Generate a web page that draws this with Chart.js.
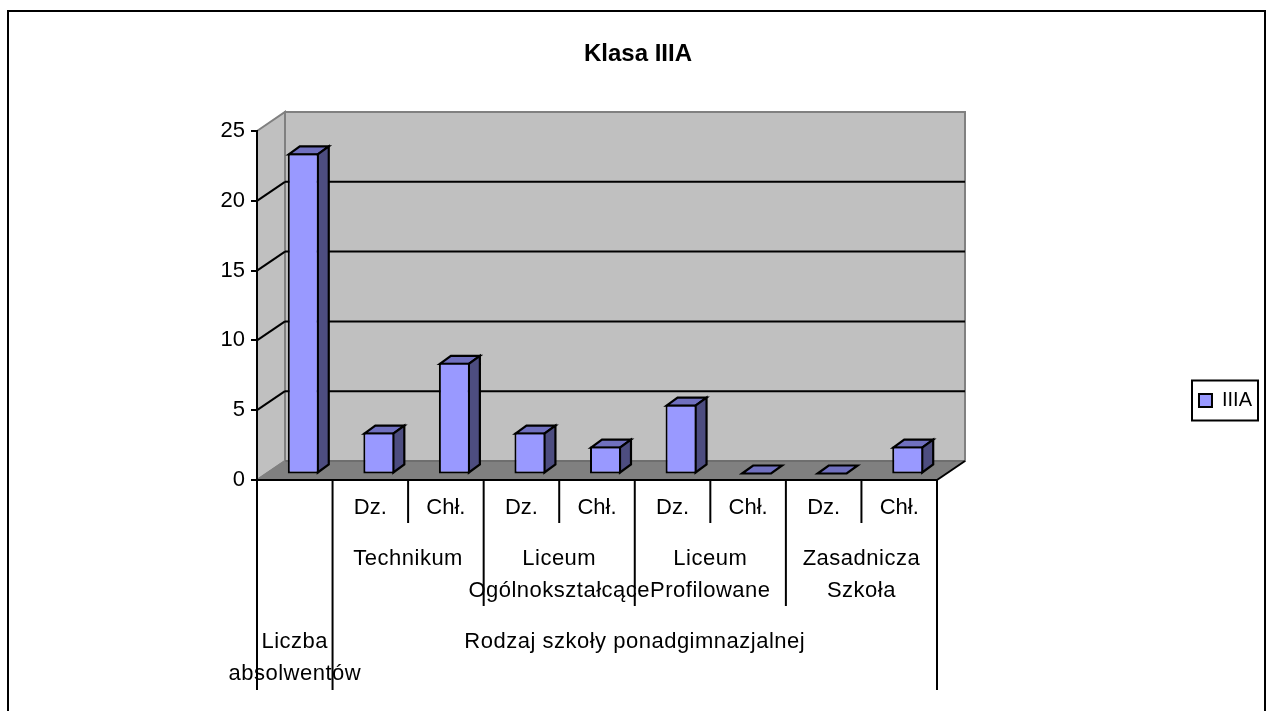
<!DOCTYPE html>
<html>
<head>
<meta charset="utf-8">
<style>html,body{margin:0;padding:0;background:#fff;overflow:hidden}canvas{display:block}</style>
<script src="https://cdn.jsdelivr.net/npm/chart.js@4"></script>
</head>
<body>
<canvas id="c" width="1267" height="711"></canvas>
<script>
const chartTitle = 'Klasa IIIA';
const seriesName = 'IIIA';
const categories = ['', 'Dz.', 'Chł.', 'Dz.', 'Chł.', 'Dz.', 'Chł.', 'Dz.', 'Chł.'];
const values = [23, 3, 8, 3, 2, 5, 0, 0, 2];
const yTicks = [0, 5, 10, 15, 20, 25];
// [first category, last category, text lines, row]
const groupLabels = [
  [1, 2, ['Technikum'], 1],
  [3, 4, ['Liceum', 'Ogólnokształcące'], 1],
  [5, 6, ['Liceum', 'Profilowane'], 1],
  [7, 8, ['Zasadnicza', 'Szkoła'], 1],
  [1, 8, ['Rodzaj szkoły ponadgimnazjalnej'], 2],
  [0, 0, ['Liczba', 'absolwentów'], 2]
];
const separators1 = [2, 4, 6, 8];
const separators2 = [3, 5, 7];
const separators3 = [0, 1, 9];

const FONT = '"Liberation Sans", Arial, sans-serif';
const DX = 28, DY = -19;        // depth of the 3D box
const BX = 8.5, BY = -5.5;      // where bars stand on the floor
const bdx = 11, bdy = -8;       // depth of one bar
const WALL = '#c0c0c0', FLOOR = '#808080', EDGE = '#808080';
const LEGEND_SHIFT_X = 4, LEGEND_SHIFT_Y = 45, LEGEND_FRAME_W = 66;

function poly(ctx, pts, fill, stroke, lw) {
  ctx.beginPath();
  pts.forEach((p, i) => i ? ctx.lineTo(p[0], p[1]) : ctx.moveTo(p[0], p[1]));
  ctx.closePath();
  if (fill) { ctx.fillStyle = fill; ctx.fill(); }
  if (stroke) { ctx.strokeStyle = stroke; ctx.lineWidth = lw; ctx.lineJoin = 'miter'; ctx.stroke(); }
}
function line(ctx, x1, y1, x2, y2, color, lw) {
  ctx.beginPath(); ctx.moveTo(x1, y1); ctx.lineTo(x2, y2);
  ctx.strokeStyle = color; ctx.lineWidth = lw; ctx.stroke();
}

const box3d = {
  id: 'box3d',
  afterLayout(chart) {
    const lg = chart.legend;
    lg.top += LEGEND_SHIFT_Y; lg.bottom += LEGEND_SHIFT_Y;
    lg.left += LEGEND_SHIFT_X; lg.right += LEGEND_SHIFT_X;
  },
  beforeDraw(chart) {
    const ctx = chart.ctx, x = chart.scales.x, y = chart.scales.y;
    const l = x.left, r = x.right, b = y.getPixelForValue(0), t = y.getPixelForValue(25);
    ctx.save();
    poly(ctx, [[l + DX, t + DY], [r + DX, t + DY], [r + DX, b + DY], [l + DX, b + DY]], WALL, EDGE, 2);
    poly(ctx, [[l, t], [l + DX, t + DY], [l + DX, b + DY], [l, b]], WALL, EDGE, 2);
    poly(ctx, [[l, b], [l + DX, b + DY], [r + DX, b + DY], [r, b]], FLOOR, null, 0);
    line(ctx, l + DX, b + DY, r + DX, b + DY, '#6e6e6e', 2);
    line(ctx, l, b, l + DX, b + DY, EDGE, 2);
    line(ctx, r, b, r + DX, b + DY, '#000', 2);
    yTicks.slice(1, -1).forEach(v => {
      const py = y.getPixelForValue(v);
      line(ctx, l, py, l + DX, py + DY, '#000', 2);
      line(ctx, l + DX, py + DY, r + DX, py + DY, '#000', 2);
    });
    ctx.restore();
  },
  beforeDatasetsDraw(chart) {
    const ctx = chart.ctx;
    ctx.save();
    ctx.translate(BX, BY);
    chart.getDatasetMeta(0).data.forEach(el => {
      const { x, y, base, width } = el.getProps(['x', 'y', 'base', 'width'], true);
      const a = x - width / 2 + 1, c = x + width / 2 - 1;
      const tp = Math.min(y + 1, base - 1), bt = base - 1;
      poly(ctx, [[a, tp], [a + bdx, tp + bdy], [c + bdx, tp + bdy], [c, tp]], '#7070bf', '#000', 2.2);
      if (bt > tp) poly(ctx, [[c, tp], [c + bdx, tp + bdy], [c + bdx, bt + bdy], [c, bt]], '#4d4d80', '#000', 2.2);
    });
  },
  afterDatasetsDraw(chart) { chart.ctx.restore(); },
  afterDraw(chart) {
    const ctx = chart.ctx, xs = chart.scales.x;
    const edge = i => xs.left + i * xs.width / categories.length;
    const bottom = xs.top;
    ctx.save();
    ctx.lineCap = 'butt';
    separators1.forEach(i => line(ctx, edge(i), bottom, edge(i), 523, '#000', 2));
    separators2.forEach(i => line(ctx, edge(i), bottom, edge(i), 606, '#000', 2));
    separators3.forEach(i => line(ctx, edge(i), bottom, edge(i), 690, '#000', 2));

    ctx.fillStyle = '#000';
    ctx.font = '22px ' + FONT;
    ctx.textAlign = 'center';
    ctx.textBaseline = 'middle';
    if ('letterSpacing' in ctx) ctx.letterSpacing = '0.5px';
    const rowY = { 1: 559, 2: 642 };
    groupLabels.forEach(([a, b, lines, row]) => {
      const cx = (edge(a) + edge(b + 1)) / 2;
      lines.forEach((s, i) => ctx.fillText(s, cx, rowY[row] + i * 32));
    });
    if ('letterSpacing' in ctx) ctx.letterSpacing = '0px';

    const lg = chart.legend;
    const cy = (lg.top + lg.bottom) / 2;
    ctx.strokeStyle = '#000'; ctx.lineWidth = 2;
    ctx.strokeRect(lg.right - LEGEND_SHIFT_X - LEGEND_FRAME_W, cy - 20, LEGEND_FRAME_W, 40);

    ctx.beginPath();
    ctx.moveTo(8, 711); ctx.lineTo(8, 11); ctx.lineTo(1265, 11); ctx.lineTo(1265, 711);
    ctx.lineWidth = 2; ctx.stroke();
    ctx.restore();
  }
};

new Chart(document.getElementById('c'), {
  type: 'bar',
  data: {
    labels: categories,
    datasets: [{
      label: seriesName,
      data: values,
      backgroundColor: '#9999ff',
      borderColor: '#000',
      borderWidth: 2,
      borderSkipped: false,
      barPercentage: 0.41,
      categoryPercentage: 1,
      clip: false
    }]
  },
  options: {
    responsive: false,
    animation: false,
    layout: { padding: { left: 18, right: 9, top: 0, bottom: 0 } },
    plugins: {
      tooltip: { enabled: false },
      title: {
        display: true,
        text: chartTitle,
        color: '#000',
        font: { family: FONT, size: 24, weight: 'bold', lineHeight: 1.2 },
        padding: { top: 40, bottom: 62.2 }
      },
      legend: {
        display: true,
        position: 'right',
        labels: {
          color: '#000',
          font: { family: FONT, size: 20 },
          boxWidth: 13, boxHeight: 13, padding: 5
        }
      }
    },
    scales: {
      x: {
        grid: { display: false },
        border: { display: true, color: '#000', width: 2 },
        ticks: { color: '#000', font: { family: FONT, size: 22 }, padding: 7, maxRotation: 0, autoSkip: false },
        afterFit(s) { s.height = 231; }
      },
      y: {
        min: 0, max: 25,
        afterBuildTicks(s) { s.ticks = yTicks.map(v => ({ value: v })); },
        grid: { drawOnChartArea: false, drawTicks: true, tickLength: 6, color: '#000', lineWidth: 2 },
        border: { display: true, color: '#000', width: 2 },
        ticks: { color: '#000', font: { family: FONT, size: 22 }, padding: 6 },
        afterFit(s) { s.width = 239; }
      },
      spacer: {
        position: 'right',
        display: true,
        grid: { display: false },
        border: { display: false },
        ticks: { display: false },
        afterFit(s) { s.width = 253; }
      }
    }
  },
  plugins: [box3d]
});
</script>
</body>
</html>
